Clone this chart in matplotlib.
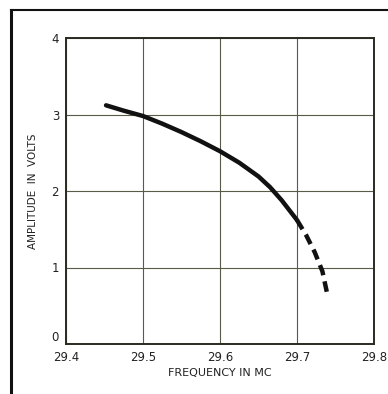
import matplotlib
matplotlib.use("Agg")
import matplotlib.pyplot as plt
from matplotlib.lines import Line2D

freq_solid = [29.452, 29.475, 29.5, 29.525, 29.55, 29.575, 29.6, 29.625, 29.65, 29.665, 29.68, 29.69, 29.7]
amp_solid = [3.12, 3.05, 2.98, 2.88, 2.77, 2.65, 2.52, 2.37, 2.19, 2.05, 1.88, 1.75, 1.62]
freq_dash = [29.7, 29.712, 29.723, 29.733, 29.74]
amp_dash = [1.62, 1.42, 1.2, 0.95, 0.62]
xticks = [29.4, 29.5, 29.6, 29.7, 29.8]
xticklabels = ["29.4", "29.5", "29.6", "29.7", "29.8"]
yticks = [0, 1, 2, 3, 4]
yticklabels = ["0", "1", "2", "3", "4"]

W, H = 388, 394
fig = plt.figure(figsize=(W/100, H/100), dpi=100)
ax = fig.add_axes([66/W, 1-344/H, (374-66)/W, (344-38)/H])
ax.plot(freq_solid, amp_solid, color="#111111", lw=3.2, solid_capstyle="round", solid_joinstyle="round")
ax.plot(freq_dash, amp_dash, color="#111111", lw=3.2, dashes=(2.4, 1.4))
ax.set_xlim(29.4, 29.8)
ax.set_ylim(0, 4)
ax.set_xticks(xticks)
ax.set_xticklabels(xticklabels, fontsize=8.5)
ax.set_yticks(yticks)
ax.set_yticklabels(yticklabels, fontsize=8.5)
ax.tick_params(length=0, pad=5, colors="#222222")
ax.get_yticklabels()[0].set_va("bottom")
ax.grid(True, color="#5a5a48", lw=0.8)
for s in ax.spines.values():
    s.set_color("#2a2a20")
    s.set_linewidth(1.4)
ax.set_xlabel("FREQUENCY IN MC", fontsize=8, color="#222222", labelpad=3)
ax.set_ylabel("AMPLITUDE  IN  VOLTS", fontsize=7.5, color="#222222", labelpad=10)
fig.add_artist(Line2D([11/W, 11/W], [0, 1-10/H], color="#111111", lw=2.2, transform=fig.transFigure))
fig.add_artist(Line2D([11/W, 1], [1-10/H, 1-10/H], color="#111111", lw=1.5, transform=fig.transFigure))
fig.savefig("out.png", dpi=100)
